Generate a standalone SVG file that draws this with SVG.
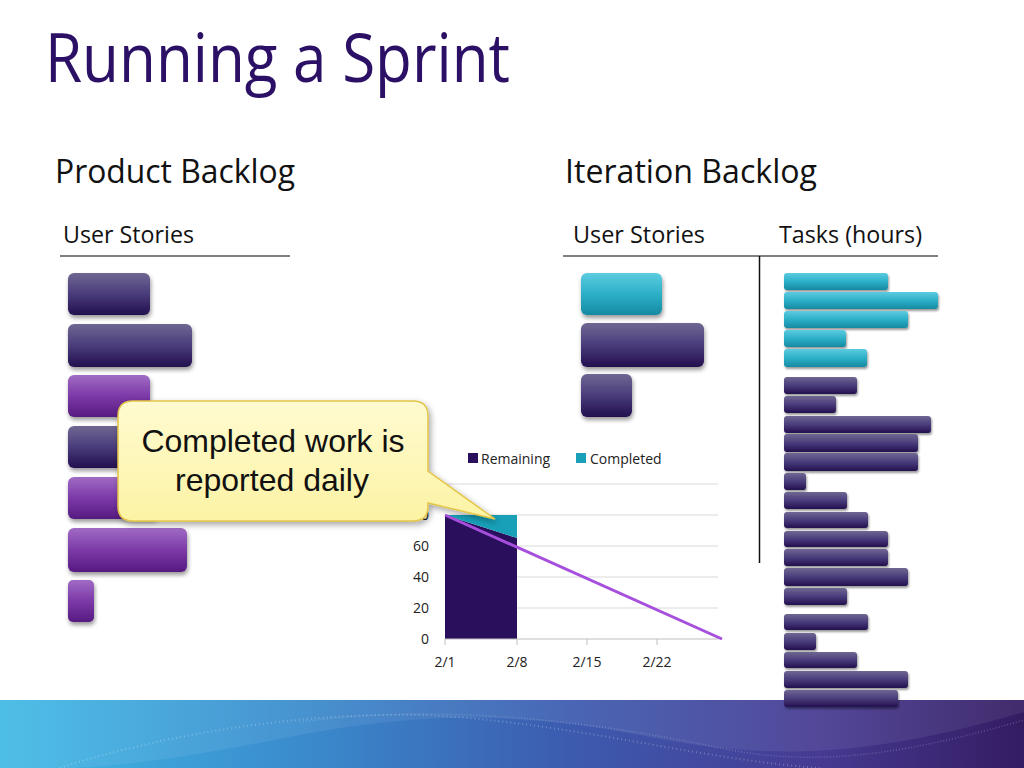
<svg xmlns="http://www.w3.org/2000/svg" width="1024" height="768" viewBox="0 0 1024 768">
<defs>
<style>
.hdr{font-family:"Open Sans","Noto Sans","DejaVu Sans",sans-serif;fill:#111;}
.ax{font-family:"Open Sans","Noto Sans","DejaVu Sans",sans-serif;font-size:14px;fill:#222;}
.grid{stroke:#d9d9d9;stroke-width:1;}
.dk{fill:url(#gDark);filter:url(#sh);}
.pu{fill:url(#gPurple);filter:url(#sh);}
.tl{fill:url(#gTeal);filter:url(#sh);}
.tdk{fill:url(#gDark);filter:url(#sh2);}
.ttl{fill:url(#gTeal);filter:url(#sh2);}
</style>
<linearGradient id="gDark" x1="0" y1="0" x2="0" y2="1">
<stop offset="0" stop-color="#706792"/><stop offset="0.5" stop-color="#4a3c7c"/><stop offset="1" stop-color="#22104e"/>
</linearGradient>
<linearGradient id="gPurple" x1="0" y1="0" x2="0" y2="1">
<stop offset="0" stop-color="#a06bc4"/><stop offset="0.5" stop-color="#7c3aa8"/><stop offset="1" stop-color="#561a80"/>
</linearGradient>
<linearGradient id="gTeal" x1="0" y1="0" x2="0" y2="1">
<stop offset="0" stop-color="#5ccbe0"/><stop offset="0.5" stop-color="#2cb0c8"/><stop offset="1" stop-color="#168aa2"/>
</linearGradient>
<linearGradient id="gCallout" x1="0" y1="0" x2="0" y2="1">
<stop offset="0" stop-color="#fffbd0"/><stop offset="1" stop-color="#fcf3a4"/>
</linearGradient>
<linearGradient id="gBand" x1="0" y1="0" x2="1" y2="0">
<stop offset="0" stop-color="#41bbe6"/><stop offset="0.3" stop-color="#3a8acc"/><stop offset="0.55" stop-color="#3c5cb0"/><stop offset="0.8" stop-color="#463a92"/><stop offset="1" stop-color="#341c62"/>
</linearGradient>
<filter id="sh" x="-10%" y="-20%" width="125%" height="150%">
<feDropShadow dx="1" dy="3" stdDeviation="2" flood-color="#000" flood-opacity="0.4"/>
</filter>
<filter id="sh2" x="-10%" y="-30%" width="125%" height="180%">
<feDropShadow dx="1" dy="2" stdDeviation="1.2" flood-color="#000" flood-opacity="0.4"/>
</filter>
<filter id="shc" x="-10%" y="-10%" width="125%" height="130%">
<feDropShadow dx="2" dy="3" stdDeviation="3" flood-color="#000" flood-opacity="0.35"/>
</filter>
</defs>
<rect width="1024" height="768" fill="#ffffff"/>

<g id="title">
<text x="45" y="82" font-family="'Open Sans','Noto Sans',sans-serif" font-size="68" fill="#2b1066" textLength="465" lengthAdjust="spacingAndGlyphs">Running a Sprint</text>
</g>

<g id="product-backlog-header">
<text class="hdr" x="55" y="183" font-size="32" textLength="240" lengthAdjust="spacingAndGlyphs">Product Backlog</text>
<text class="hdr" x="63" y="243" font-size="24" textLength="131" lengthAdjust="spacingAndGlyphs">User Stories</text>
<line x1="60" y1="256" x2="290" y2="256" stroke="#808080" stroke-width="2"/>
</g>

<g id="iteration-backlog-header">
<text class="hdr" x="565" y="183" font-size="32" textLength="252" lengthAdjust="spacingAndGlyphs">Iteration Backlog</text>
<text class="hdr" x="573" y="243" font-size="24" textLength="132" lengthAdjust="spacingAndGlyphs">User Stories</text>
<text class="hdr" x="779" y="243" font-size="24" textLength="143" lengthAdjust="spacingAndGlyphs">Tasks (hours)</text>
<line x1="563" y1="256" x2="938" y2="256" stroke="#808080" stroke-width="2"/>
<line x1="759.5" y1="256" x2="759.5" y2="563" stroke="#111" stroke-width="1.5"/>
</g>

<g id="product-stories">
<rect class="dk" x="68" y="273" width="82" height="42" rx="6"/>
<rect class="dk" x="68" y="324" width="124" height="43" rx="6"/>
<rect class="pu" x="68" y="375" width="82" height="42" rx="6"/>
<rect class="dk" x="68" y="426" width="82" height="42" rx="6"/>
<rect class="pu" x="68" y="477" width="90" height="42" rx="6"/>
<rect class="pu" x="68" y="528" width="119" height="44" rx="6"/>
<rect class="pu" x="68" y="580" width="26" height="42" rx="5"/>
</g>

<g id="iteration-stories">
<rect class="tl" x="581" y="273" width="81" height="42" rx="6"/>
<rect class="dk" x="581" y="323" width="123" height="44" rx="6"/>
<rect class="dk" x="581" y="374" width="51" height="43" rx="6"/>
</g>

<g id="band">
<rect x="0" y="700" width="1024" height="68" fill="url(#gBand)"/>
<path d="M0,700 L1024,700 L1024,712 C860,760 760,760 640,735 C520,712 420,712 300,735 C200,755 120,768 60,768 L0,768 Z" fill="#ffffff" opacity="0.07"/>
<path d="M60,768 C160,735 300,712 420,715 C560,720 700,760 820,768" fill="none" stroke="#ffffff" stroke-width="2" stroke-dasharray="1 3" opacity="0.25"/>
<path d="M300,722 C420,706 560,714 720,748 C800,764 880,762 1024,720" fill="none" stroke="#ffffff" stroke-width="1.5" stroke-dasharray="1 2" opacity="0.2"/>
</g>

<g id="tasks">
<rect class="ttl" x="784" y="273" width="104" height="17" rx="3"/>
<rect class="ttl" x="784" y="292" width="154" height="17" rx="3"/>
<rect class="ttl" x="784" y="311" width="124" height="17" rx="3"/>
<rect class="ttl" x="784" y="330" width="62" height="17" rx="3"/>
<rect class="ttl" x="784" y="349" width="83" height="18" rx="3"/>
<rect class="tdk" x="784" y="377" width="73" height="17" rx="3"/>
<rect class="tdk" x="784" y="396" width="52" height="17" rx="3"/>
<rect class="tdk" x="784" y="416" width="147" height="17" rx="3"/>
<rect class="tdk" x="784" y="434" width="134" height="18" rx="3"/>
<rect class="tdk" x="784" y="453" width="134" height="18" rx="3"/>
<rect class="tdk" x="784" y="473" width="22" height="17" rx="3"/>
<rect class="tdk" x="784" y="492" width="63" height="17" rx="3"/>
<rect class="tdk" x="784" y="512" width="84" height="16" rx="3"/>
<rect class="tdk" x="784" y="531" width="104" height="16" rx="3"/>
<rect class="tdk" x="784" y="549" width="104" height="17" rx="3"/>
<rect class="tdk" x="784" y="568" width="124" height="18" rx="3"/>
<rect class="tdk" x="784" y="588" width="63" height="17" rx="3"/>
<rect class="tdk" x="784" y="614" width="84" height="16" rx="3"/>
<rect class="tdk" x="784" y="633" width="32" height="17" rx="3"/>
<rect class="tdk" x="784" y="652" width="73" height="16" rx="3"/>
<rect class="tdk" x="784" y="671" width="124" height="17" rx="3"/>
<rect class="tdk" x="784" y="690" width="114" height="17" rx="3"/>
</g>

<g id="burndown-chart">
<line class="grid" x1="445" y1="484" x2="718" y2="484"/>
<line class="grid" x1="445" y1="515" x2="718" y2="515"/>
<line class="grid" x1="445" y1="546" x2="718" y2="546"/>
<line class="grid" x1="445" y1="577" x2="718" y2="577"/>
<line class="grid" x1="445" y1="608" x2="718" y2="608"/>
<polygon points="445,639 445,515 517,538 517,639" fill="#2a0f5c"/>
<polygon points="445,515 517,515 517,538" fill="#17a0b8"/>
<line x1="445" y1="639" x2="718" y2="639" stroke="#bfbfbf" stroke-width="1"/>
<g stroke="#bfbfbf" stroke-width="1">
<line x1="445" y1="639" x2="445" y2="645"/>
<line x1="517" y1="639" x2="517" y2="645"/>
<line x1="587" y1="639" x2="587" y2="645"/>
<line x1="657" y1="639" x2="657" y2="645"/>
</g>
<line x1="445" y1="515" x2="722" y2="639" stroke="#a64fdc" stroke-width="3"/>
<g class="ax" text-anchor="end">
<text x="429" y="520">80</text>
<text x="429" y="551">60</text>
<text x="429" y="582">40</text>
<text x="429" y="613">20</text>
<text x="429" y="644">0</text>
</g>
<g class="ax" text-anchor="middle">
<text x="445" y="667">2/1</text>
<text x="517" y="667">2/8</text>
<text x="587" y="667">2/15</text>
<text x="657" y="667">2/22</text>
</g>
<rect x="468" y="453" width="10" height="10" fill="#2a0f5c"/>
<text class="ax" x="481" y="464">Remaining</text>
<rect x="576" y="453" width="10" height="10" fill="#17a0b8"/>
<text class="ax" x="590" y="464">Completed</text>
</g>

<g id="callout">
<path d="M133,401 L413,401 Q428,401 428,416 L428,471 L495,519 L428,503 L428,506 Q428,521 413,521 L133,521 Q118,521 118,506 L118,416 Q118,401 133,401 Z" fill="url(#gCallout)" stroke="#e3c548" stroke-width="1.5" filter="url(#shc)"/>
<text x="273" y="452" font-family="'Liberation Sans',Arial,sans-serif" font-size="32" fill="#111" text-anchor="middle">Completed work is</text>
<text x="272" y="491" font-family="'Liberation Sans',Arial,sans-serif" font-size="32" fill="#111" text-anchor="middle">reported daily</text>
</g>
</svg>
